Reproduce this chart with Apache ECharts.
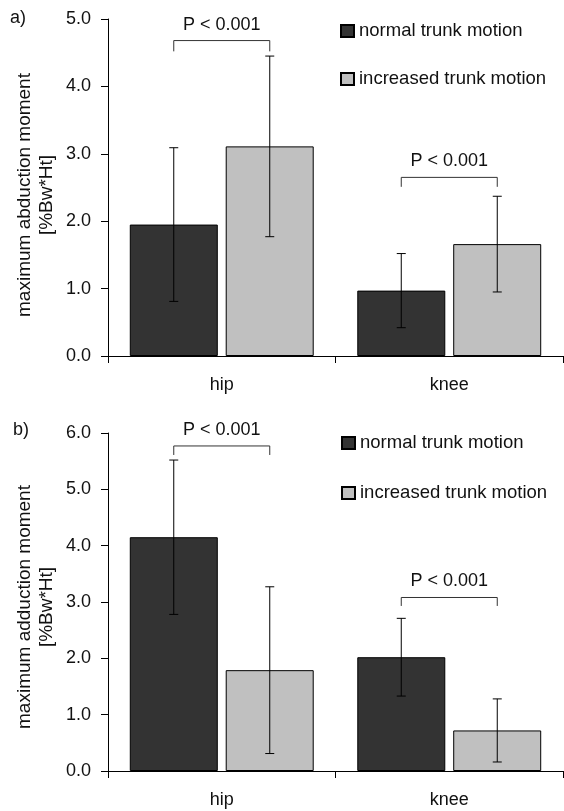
<!DOCTYPE html>
<html>
<head>
<meta charset="utf-8">
<script src="https://cdn.jsdelivr.net/npm/echarts@6/dist/echarts.min.js"></script>
<style>
html,body{margin:0;padding:0;background:#fff;}
#chart{width:564px;height:811px;}
</style>
</head>
<body>
<div id="chart"></div>
<script>
// ---- data ----
const categories = ['hip', 'knee'];
const seriesNames = ['normal trunk motion', 'increased trunk motion'];
const yTicksA = [0, 1, 2, 3, 4, 5];
const yTicksB = [0, 1, 2, 3, 4, 5, 6];
// panel a) abduction
const aNormalMean = [1.95, 0.97];
const aNormalSD = [1.14, 0.55];
const aIncMean = [3.11, 1.66];
const aIncSD = [1.34, 0.71];
const aBracketTop = [4.68, 2.65];
const aBracketEnd = [4.52, 2.51];
// panel b) adduction
const bNormalMean = [4.15, 2.02];
const bNormalSD = [1.37, 0.69];
const bIncMean = [1.79, 0.72];
const bIncSD = [1.48, 0.56];
const bBracketTop = [5.77, 3.08];
const bBracketEnd = [5.61, 2.93];
const pLabels = ['P < 0.001', 'P < 0.001'];
const panelLabels = ['a)', 'b)'];
const yTitles = ['maximum abduction moment\n[%Bw*Ht]', 'maximum adduction moment\n[%Bw*Ht]'];

// ---- styling ----
const FONT = "'Liberation Sans', Arial, Helvetica, sans-serif";
const DARK = '#333333';
const LIGHT = '#c0c0c0';
const BAR_W = 88;
const HALF_STEP = 48; // half distance between bar centres in a group
const CAP = 4.5;

function errData(mean, sd) {
  return mean.map((m, i) => [i, m - sd[i], m + sd[i]]);
}
function bracketData(top, end) {
  return top.map((t, i) => [i, t, end[i], pLabels[i]]);
}
function errRender(offset) {
  return function (params, api) {
    const lo = api.coord([api.value(0), api.value(1)]);
    const hi = api.coord([api.value(0), api.value(2)]);
    const cx = lo[0] + offset;
    const st = { stroke: '#000', lineWidth: 1 };
    return {
      type: 'group',
      children: [
        { type: 'line', shape: { x1: cx, y1: lo[1], x2: cx, y2: hi[1] }, style: st },
        { type: 'line', shape: { x1: cx - CAP, y1: lo[1], x2: cx + CAP, y2: lo[1] }, style: st },
        { type: 'line', shape: { x1: cx - CAP, y1: hi[1], x2: cx + CAP, y2: hi[1] }, style: st }
      ]
    };
  };
}
function bracketRender(params, api) {
  const top = api.coord([api.value(0), api.value(1)]);
  const end = api.coord([api.value(0), api.value(2)]);
  const x1 = top[0] - HALF_STEP, x2 = top[0] + HALF_STEP;
  const label = pLabels[params.dataIndex];
  return {
    type: 'group',
    children: [
      { type: 'polyline', shape: { points: [[x1, end[1]], [x1, top[1]], [x2, top[1]], [x2, end[1]]] },
        style: { stroke: '#333', lineWidth: 1, fill: null } },
      { type: 'text', x: top[0], y: top[1] - 7,
        style: { text: label, font: '18px ' + FONT, fill: '#111', align: 'center', verticalAlign: 'bottom' } }
    ]
  };
}

function makeX(gi) {
  return {
    type: 'category', gridIndex: gi, data: categories,
    axisLine: { show: true, lineStyle: { color: '#000', width: 1 } },
    axisTick: { show: true, length: 7, lineStyle: { color: '#000' } },
    axisLabel: { color: '#111', fontSize: 18, fontFamily: FONT, margin: 20 },
    splitLine: { show: false }
  };
}
function makeY(gi, ticks) {
  return {
    type: 'value', gridIndex: gi, min: ticks[0], max: ticks[ticks.length - 1], interval: 1,
    axisLine: { show: true, lineStyle: { color: '#000', width: 1 } },
    axisTick: { show: true, length: 7, lineStyle: { color: '#000' } },
    axisLabel: { color: '#111', fontSize: 18, fontFamily: FONT, margin: 17, formatter: v => v.toFixed(1) },
    splitLine: { show: false }
  };
}
function barSeries(name, gi, data, color) {
  return {
    name: name, type: 'bar', xAxisIndex: gi, yAxisIndex: gi, data: data,
    barWidth: BAR_W, barGap: '9%',
    itemStyle: { color: color, borderColor: '#000', borderWidth: 1 },
    emphasis: { disabled: true }, z: 2
  };
}
function customSeries(gi, data, render, z) {
  return {
    type: 'custom', xAxisIndex: gi, yAxisIndex: gi, data: data, renderItem: render,
    z: z, silent: true, clip: false
  };
}

const chart = echarts.init(document.getElementById('chart'), null, { renderer: 'canvas' });
chart.setOption({
  animation: false,
  backgroundColor: '#fff',
  textStyle: { fontFamily: FONT },
  grid: [
    { left: 108, top: 19, width: 455, height: 337 },
    { left: 108, top: 433, width: 455, height: 338 }
  ],
  xAxis: [makeX(0), makeX(1)],
  yAxis: [makeY(0, yTicksA), makeY(1, yTicksB)],
  legend: [
    { data: seriesNames, orient: 'vertical', left: 340, top: 21, itemGap: 28, padding: 0,
      itemWidth: 13, itemHeight: 12, icon: 'rect', selectedMode: false,
      textStyle: { fontSize: 18.5, fontFamily: FONT, color: '#111', lineHeight: 20 } },
    { data: seriesNames, orient: 'vertical', left: 341, top: 433, itemGap: 30, padding: 0,
      itemWidth: 13, itemHeight: 12, icon: 'rect', selectedMode: false,
      textStyle: { fontSize: 18.5, fontFamily: FONT, color: '#111', lineHeight: 20 } }
  ],
  graphic: [
    { type: 'text', left: 10, top: 9, style: { text: panelLabels[0], font: '18px ' + FONT, fill: '#111' } },
    { type: 'text', left: 13, top: 421, style: { text: panelLabels[1], font: '18px ' + FONT, fill: '#111' } },
    { type: 'text', x: 36, y: 195, rotation: Math.PI / 2,
      style: { text: yTitles[0], font: '19px ' + FONT, fill: '#111', align: 'center', verticalAlign: 'middle', lineHeight: 22 } },
    { type: 'text', x: 36, y: 607, rotation: Math.PI / 2,
      style: { text: yTitles[1], font: '19px ' + FONT, fill: '#111', align: 'center', verticalAlign: 'middle', lineHeight: 22 } }
  ],
  series: [
    barSeries(seriesNames[0], 0, aNormalMean, DARK),
    barSeries(seriesNames[1], 0, aIncMean, LIGHT),
    barSeries(seriesNames[0], 1, bNormalMean, DARK),
    barSeries(seriesNames[1], 1, bIncMean, LIGHT),
    customSeries(0, errData(aNormalMean, aNormalSD), errRender(-HALF_STEP), 5),
    customSeries(0, errData(aIncMean, aIncSD), errRender(HALF_STEP), 5),
    customSeries(1, errData(bNormalMean, bNormalSD), errRender(-HALF_STEP), 5),
    customSeries(1, errData(bIncMean, bIncSD), errRender(HALF_STEP), 5),
    customSeries(0, bracketData(aBracketTop, aBracketEnd), bracketRender, 6),
    customSeries(1, bracketData(bBracketTop, bBracketEnd), bracketRender, 6)
  ]
});
</script>
</body>
</html>
